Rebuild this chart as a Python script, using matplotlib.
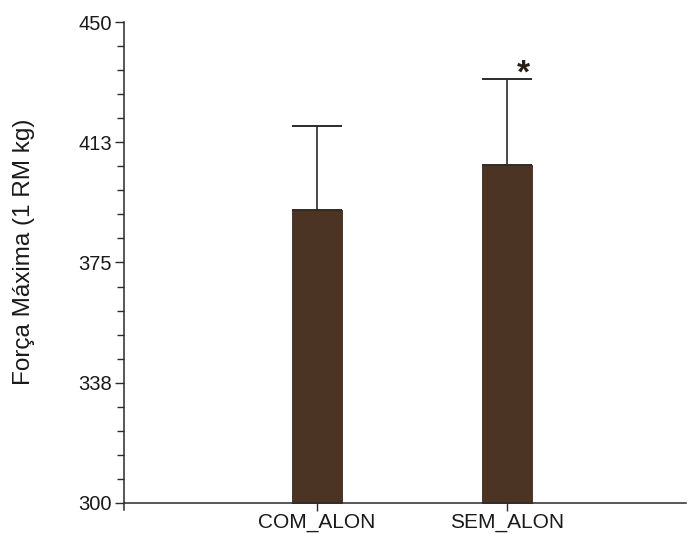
import matplotlib.pyplot as plt
from matplotlib.ticker import FixedLocator, MultipleLocator

plt.rcParams['font.family'] = ['Liberation Sans', 'DejaVu Sans']

# data
groups = ['COM_ALON', 'SEM_ALON']
means = [391.4, 405.4]
sd = [26.2, 26.7]
tick_vals = [300, 337.5, 375, 412.5, 450]
tick_text = ['300', '338', '375', '413', '450']

fig = plt.figure(figsize=(6.9, 5.34), dpi=100)
ax = fig.add_axes([0.1797, 0.045, 0.8143, 0.9138])

pos = [1, 2]
ink = '#2b2b2b'
ax.bar(pos, [m - 300 for m in means], bottom=300, width=0.26,
       color='#4b3423', edgecolor='#3a281a', linewidth=0.6, zorder=2)
ax.errorbar(pos, means, yerr=[[0, 0], sd], fmt='none', ecolor=ink,
            elinewidth=1.2, capsize=18, capthick=1.4, zorder=1)

# significance mark
ax.text(2 + 0.085, means[1] + sd[1] - 1.0, '*', fontsize=24, fontweight='bold',
        color='#2a1e14', ha='center', va='baseline')

ax.set_xlim(-0.015, 2.94)
ax.set_ylim(297.8, 450)
ax.spines['top'].set_visible(False)
ax.spines['right'].set_visible(False)
ax.spines['bottom'].set_position(('data', 300))
ax.spines['left'].set_bounds(297.8, 450)
for s in ('left', 'bottom'):
    ax.spines[s].set_color(ink)
    ax.spines[s].set_linewidth(1.1)

ax.set_xticks(pos)
ax.set_xticklabels(groups, fontsize=15, color='#1a1a1a')
ax.yaxis.set_major_locator(FixedLocator(tick_vals))
ax.set_yticklabels(tick_text, fontsize=14.5, color='#1a1a1a')
ax.yaxis.set_minor_locator(MultipleLocator(7.5))
ax.tick_params(axis='y', which='major', length=6.5, width=1, color=ink, pad=2)
ax.tick_params(axis='y', which='minor', length=5, width=1, color=ink)
ax.tick_params(axis='x', length=5.5, width=1, color=ink, pad=1.5)

ax.set_ylabel('Força Máxima (1 RM kg)', fontsize=17.5, color='#1a1a1a')
ax.yaxis.set_label_coords(-0.158, 0.53)

fig.savefig('out.png', dpi=100, facecolor='white')
